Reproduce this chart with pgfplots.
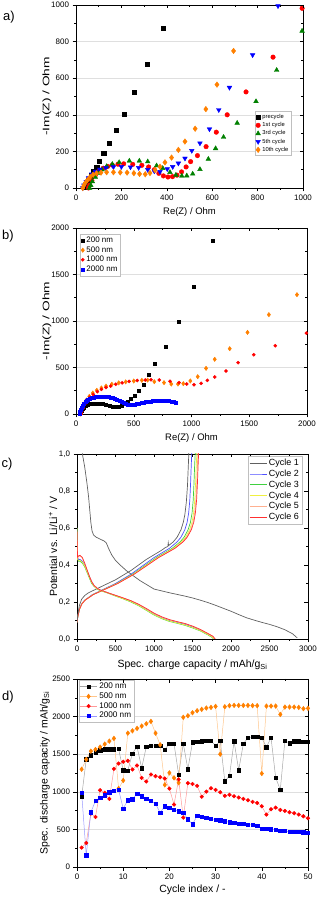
\documentclass[border=0pt]{standalone}
\usepackage{fontspec}
\setmainfont{Liberation Sans}
\usepackage{graphicx}
\usepackage{pgfplots}
\usepackage{pgfplotstable}
\pgfplotsset{compat=1.18}
\definecolor{cgreen}{RGB}{0,128,0}
\definecolor{corange}{RGB}{255,128,0}
\definecolor{cone}{RGB}{96,96,96}
\definecolor{ctwo}{RGB}{80,80,255}
\definecolor{cthree}{RGB}{64,208,64}
\definecolor{cfour}{RGB}{240,240,64}
\definecolor{cfive}{RGB}{255,176,144}
\definecolor{csix}{RGB}{255,48,48}
\pgfplotstableread{
cyc n200 n500 n1000 n2000
1 932 1300 258 990
2 1434 1430 320 155
3 1487 1540 710 728
4 1527 1563 666 880
5 1550 1594 1021 924
6 1567 1634 986 955
7 1567 1674 906 995
8 1567 1710 1305 1017
9 1570 1043 1376 1030
10 1288 1150 1400 777
11 1283 1780 1412 888
12 1510 1811 1297 901
13 1600 1843 1350 977
14 1315 1874 1185 941
15 1600 1905 1137 906
16 1612 1936 1230 880
17 1612 1780 1208 840
18 1612 1625 1194 724
19 1563 1092 1177 808
20 1638 1252 1043 786
21 1638 1185 830 764
22 1230 1120 1165 742
23 1643 1990 657 720
24 1300 2011 1115 635
25 1660 2051 1105 568
26 1665 2078 1080 680
27 1673 2096 935 666
28 1678 2114 1003 653
29 1678 2122 1048 640
30 1612 2136 1025 631
31 1678 1500 995 622
32 1141 2131 946 608
33 1212 2145 960 595
34 1670 2149 941 586
35 1288 2149 924 577
36 1638 2149 906 573
37 1718 2149 888 564
38 1732 2145 866 560
39 1732 2145 852 551
40 1718 1243 808 511
41 1594 2140 697 506
42 1718 2140 768 502
43 1190 2140 790 497
44 1026 2029 759 480
45 1678 2127 746 480
46 1647 2127 728 466
47 1670 2127 715 466
48 1670 2122 697 466
49 1665 2105 675 462
50 1665 2110 648 457
}\capdata
\pgfplotsset{
  base/.style={scale only axis, axis line style={black, line width=0.6pt},
    tick style={black, line width=0.5pt}, major tick length=3.5bp, minor tick length=2bp,
    minor tick num=1, tick label style={font=\fontsize{8}{9}\selectfont},
    label style={font=\fontsize{9.5}{11}\selectfont},
    /pgf/number format/assume math mode=true,
    /pgf/number format/1000 sep={},
    xtick pos=left, ytick pos=left, tick align=outside,
    grid style={gray!25, line width=0.5pt},
    legend cell align=left},
  mirror/.style={scale only axis, axis line style={draw=none},
    tick style={black, line width=0.5pt}, major tick length=3.5bp, minor tick length=2bp,
    minor tick num=1, xtick pos=right, ytick pos=right, tick align=inside,
    xticklabels={}, yticklabels={}},
}
\begin{document}
\begin{tikzpicture}
\useasboundingbox (0,0) rectangle (319bp,898bp);
\node[font=\fontsize{13}{14}\selectfont] at (9bp,881bp) {a)};
\node[font=\fontsize{13}{14}\selectfont] at (8bp,662bp) {b)};
\node[font=\fontsize{13}{14}\selectfont] at (7bp,434bp) {c)};
\node[font=\fontsize{13}{14}\selectfont] at (8bp,201bp) {d)};
% ---------------- panel a
\begin{axis}[base, at={(76bp,710bp)}, anchor=south west, width=227bp, height=183bp,
  xmin=0, xmax=1000, ymin=0, ymax=1000, xtick={0,200,...,1000}, ytick={0,200,...,1000},
  ymajorgrids, xlabel={Re(Z) / Ohm}, ylabel={\scalebox{1.45}[1]{-Im(Z) / Ohm}},
  xlabel style={at={(axis description cs:0.5,-0.131)}, anchor=center},
  ylabel style={at={(axis description cs:-0.128,0.5)}, anchor=center},
  legend style={font=\fontsize{5.8}{6.5}\selectfont, draw=gray!50, at={(0.95,0.42)}, anchor=north east, inner sep=1pt, row sep=-1.5pt}]
\addplot[only marks, mark=square*, mark size=2.1, black] coordinates {
(37,7)(44,20)(56,44)(66,67)(78,93)(91,115)(103,148)(122,190)(147,246)(176,315)(212,405)(256,522)(313,676)(385,875)};
\addlegendentry{precycle}
\addplot[only marks, mark=*, mark size=2.3, red] coordinates {
(55,0)(60,15)(70,40)(85,70)(100,90)(120,108)(140,118)(160,125)(185,130)(210,132)(250,129)(290,124)(320,115)(345,100)(365,80)(385,66)(405,60)(425,62)(445,70)(465,88)(485,115)(505,144)(535,177)(573,226)(618,305)(666,400)(749,525)(868,715)(996,982)};
\addlegendentry{1st cycle}
\addplot[only marks, mark=triangle*, mark size=2.7, cgreen] coordinates {
(60,0)(65,15)(72,35)(85,60)(100,82)(115,100)(135,118)(160,130)(190,140)(235,148)(279,148)(316,144)(355,122)(382,108)(414,86)(440,71)(466,66)(488,67)(514,77)(546,102)(583,158)(615,216)(650,278)(710,355)(793,473)(884,644)(996,858)};
\addlegendentry{3rd cycle}
\addplot[only marks, mark=triangle*, mark size=2.7, mark options={rotate=180}, blue] coordinates {
(30,0)(35,15)(45,35)(55,55)(70,75)(85,90)(105,102)(132,109)(165,115)(200,116)(240,114)(276,111)(316,100)(345,92)(370,89)(402,104)(426,116)(451,135)(480,162)(510,204)(546,245)(588,322)(629,427)(676,549)(778,727)(890,995)};
\addlegendentry{5th cycle}
\addplot[only marks, mark=diamond*, mark size=2.8, corange] coordinates {
(30,0)(35,15)(42,30)(52,45)(62,60)(75,72)(90,80)(110,84)(135,86)(165,86)(195,85)(225,84)(255,81)(280,77)(305,75)(326,82)(348,98)(370,116)(392,140)(421,166)(451,208)(480,254)(525,324)(572,431)(621,565)(694,749)};
\addlegendentry{10th cycle}
\end{axis}
\begin{axis}[mirror, at={(76bp,710bp)}, anchor=south west, width=227bp, height=183bp,
  xmin=0, xmax=1000, ymin=0, ymax=1000, xtick={0,200,...,1000}, ytick={0,200,...,1000}]
\end{axis}
% ---------------- panel b
\begin{axis}[base, at={(76bp,484bp)}, anchor=south west, width=231bp, height=186bp,
  xmin=0, xmax=2000, ymin=0, ymax=2000, xtick={0,500,...,2000}, ytick={0,500,...,2000},
  ymajorgrids, xlabel={Re(Z) / Ohm}, ylabel={\scalebox{1.45}[1]{-Im(Z) / Ohm}},
  xlabel style={at={(axis description cs:0.5,-0.129)}, anchor=center},
  ylabel style={at={(axis description cs:-0.126,0.5)}, anchor=center},
  legend style={font=\fontsize{8}{9}\selectfont, draw=gray!50, at={(0.017,0.968)}, anchor=north west, inner sep=1pt, row sep=-1.5pt}]
\addplot[only marks, mark=square*, mark size=1.5, black] coordinates {
(35,0)(40,15)(48,35)(58,55)(70,72)(85,88)(100,98)(120,106)(145,111)(170,113)(200,112)(230,109)(260,103)(290,92)(320,82)(345,76)(370,78)(395,90)(420,110)(445,132)(475,160)(505,197)(545,247)(587,319)(630,419)(685,545)(775,724)(890,993)(1017,1366)(1185,1860)};
\addlegendentry{200 nm}
\addplot[only marks, mark=diamond*, mark size=2.2, corange] coordinates {
(40,0)(45,30)(55,70)(70,110)(90,150)(115,190)(145,225)(180,255)(220,280)(260,300)(310,320)(370,335)(430,345)(500,355)(570,362)(620,365)(678,347)(762,337)(825,322)(883,322)(929,326)(990,355)(1054,401)(1126,491)(1201,588)(1331,702)(1485,878)(1670,1068)(1913,1283)};
\addlegendentry{500 nm}
\addplot[only marks, mark=*, mark size=1.6, red] coordinates {
(45,0)(50,30)(60,60)(75,100)(95,140)(120,180)(150,210)(185,240)(220,265)(260,285)(300,300)(345,320)(400,335)(460,350)(530,360)(600,365)(650,368)(721,365)(814,351)(892,337)(959,322)(1022,315)(1083,330)(1137,362)(1201,398)(1299,462)(1403,552)(1539,638)(1726,734)(1995,870)};
\addlegendentry{1000 nm}
\addplot[only marks, mark=square*, mark size=1.5, blue] coordinates {
(28,0)(35,20)(42,45)(50,70)(58,90)(68,110)(80,128)(92,143)(105,155)(120,165)(135,173)(150,179)(168,184)(185,187)(202,188)(220,188)(240,187)(260,185)(280,181)(300,176)(318,170)(336,162)(355,153)(375,143)(395,132)(415,121)(433,112)(450,105)(465,99)(480,97)(495,98)(510,102)(525,106)(545,112)(565,118)(585,123)(605,128)(625,132)(645,136)(665,140)(685,142)(705,145)(725,146)(745,147)(765,146)(785,144)(805,140)(825,135)(845,130)(866,122)};
\addlegendentry{2000 nm}
\end{axis}
\begin{axis}[mirror, at={(76bp,484bp)}, anchor=south west, width=231bp, height=186bp,
  xmin=0, xmax=2000, ymin=0, ymax=2000, xtick={0,500,...,2000}, ytick={0,500,...,2000}]
\end{axis}
% ---------------- panel c
\begin{axis}[base, at={(77bp,259bp)}, anchor=south west, width=231bp, height=185bp,
  xmin=0, xmax=3000, ymin=0, ymax=1.0, xtick={0,500,...,3000}, ytick={0,0.2,...,1.0},
  yticklabel style={/pgf/number format/.cd, fixed, fixed zerofill, precision=1, use comma},
  xlabel={Spec. charge capacity / mAh/g\textsubscript{Si}},
  ylabel={Potential vs. Li/Li\textsuperscript{+} / V},
  label style={font=\fontsize{10.5}{12}\selectfont},
  xlabel style={at={(axis description cs:0.5,-0.141)}, anchor=center},
  ylabel style={at={(axis description cs:-0.104,0.5)}, anchor=center},
  legend style={font=\fontsize{9}{10}\selectfont, draw=gray!50, at={(0.974,0.989)}, anchor=north east, inner sep=1pt, row sep=-1.2pt},
  every axis plot/.append style={line width=0.7pt}]
\addplot[cone] coordinates {(50,1.15)(70,1.0)(100,0.93)(130,0.84)(150,0.77)(165,0.70)(180,0.63)(195,0.585)(215,0.562)(250,0.55)(300,0.54)(350,0.53)(380,0.52)(410,0.49)(450,0.455)(500,0.425)(560,0.40)(640,0.37)(720,0.345)(820,0.315)(920,0.29)(1000,0.27)(1200,0.25)(1400,0.232)(1500,0.222)(1600,0.21)(1700,0.197)(1800,0.182)(1900,0.166)(2000,0.15)(2100,0.132)(2200,0.115)(2300,0.102)(2400,0.09)(2500,0.079)(2600,0.066)(2700,0.05)(2800,0.028)(2860,0.006)};
\addlegendentry{Cycle 1}
\addplot[ctwo] coordinates {(0,0.09)(10,0.12)(30,0.16)(60,0.19)(100,0.21)(150,0.225)(200,0.24)(300,0.26)(400,0.28)(500,0.30)(600,0.325)(700,0.35)(800,0.38)(900,0.41)(1000,0.44)(1100,0.465)(1200,0.49)(1300,0.525)(1350,0.55)(1400,0.59)(1430,0.63)(1450,0.68)(1465,0.75)(1475,0.84)(1483,0.93)(1490,1.0)(1495,1.05)};
\addlegendentry{Cycle 2}
\addplot[cthree] coordinates {(0,0.09)(10,0.12)(31,0.16)(62,0.19)(103,0.21)(155,0.225)(206,0.24)(309,0.26)(412,0.28)(515,0.30)(618,0.325)(721,0.35)(824,0.38)(927,0.41)(1030,0.44)(1133,0.465)(1236,0.49)(1339,0.525)(1391,0.55)(1442,0.59)(1473,0.63)(1494,0.68)(1509,0.75)(1519,0.84)(1527,0.93)(1535,1.0)(1540,1.05)};
\addlegendentry{Cycle 3}
\addplot[cfour] coordinates {(0,0.09)(10,0.12)(31,0.16)(63,0.19)(104,0.21)(157,0.225)(209,0.24)(313,0.26)(418,0.28)(522,0.30)(626,0.325)(731,0.35)(835,0.38)(940,0.41)(1044,0.44)(1148,0.465)(1253,0.49)(1357,0.525)(1409,0.55)(1462,0.59)(1493,0.63)(1514,0.68)(1529,0.75)(1540,0.84)(1548,0.93)(1556,1.0)(1561,1.05)};
\addlegendentry{Cycle 4}
\addplot[cfive] coordinates {(0,0.09)(11,0.12)(32,0.16)(63,0.19)(105,0.21)(158,0.225)(211,0.24)(316,0.26)(422,0.28)(527,0.30)(632,0.325)(738,0.35)(843,0.38)(949,0.41)(1054,0.44)(1159,0.465)(1265,0.49)(1370,0.525)(1423,0.55)(1476,0.59)(1507,0.63)(1528,0.68)(1544,0.75)(1555,0.84)(1563,0.93)(1570,1.0)(1576,1.05)};
\addlegendentry{Cycle 5}
\addplot[csix] coordinates {(0,0.09)(11,0.12)(32,0.16)(64,0.19)(106,0.21)(159,0.225)(212,0.24)(318,0.26)(424,0.28)(530,0.30)(636,0.325)(742,0.35)(848,0.38)(954,0.41)(1060,0.44)(1166,0.465)(1272,0.49)(1378,0.525)(1431,0.55)(1484,0.59)(1516,0.63)(1537,0.68)(1553,0.75)(1564,0.84)(1572,0.93)(1579,1.0)(1585,1.05)};
\addlegendentry{Cycle 6}
% cycle 1 charge
\addplot[cone, forget plot] coordinates {(0,0.09)(10,0.13)(30,0.18)(60,0.215)(100,0.235)(150,0.25)(200,0.26)(300,0.28)(400,0.30)(500,0.32)(600,0.345)(700,0.37)(800,0.40)(900,0.43)(1000,0.455)(1100,0.48)(1150,0.495)(1180,0.5)(1185,0.52)(1190,0.505)(1250,0.525)(1300,0.55)(1350,0.59)(1380,0.63)(1400,0.67)(1420,0.74)(1435,0.83)(1445,0.93)(1452,1.0)(1455,1.05)};
% discharge cycles 2-6
\addplot[ctwo, forget plot] coordinates {(0,0.6)(3,0.5)(8,0.44)(20,0.43)(40,0.43)(70,0.42)(100,0.40)(130,0.37)(160,0.34)(190,0.31)(220,0.29)(260,0.275)(300,0.265)(400,0.25)(500,0.235)(600,0.22)(700,0.205)(800,0.185)(900,0.16)(1000,0.135)(1100,0.115)(1200,0.10)(1300,0.09)(1400,0.08)(1500,0.065)(1600,0.048)(1700,0.025)(1760,0.012)(1785,0.0)};
\addplot[cthree, forget plot] coordinates {(0,0.6)(3,0.48)(8,0.43)(20,0.42)(40,0.42)(70,0.41)(100,0.39)(130,0.36)(160,0.33)(190,0.30)(220,0.285)(260,0.27)(300,0.262)(400,0.248)(500,0.232)(600,0.217)(700,0.2)(800,0.18)(900,0.155)(1000,0.13)(1100,0.11)(1200,0.095)(1300,0.085)(1400,0.074)(1500,0.06)(1600,0.044)(1700,0.022)(1750,0.01)(1775,0.0)};
\addplot[cfour, forget plot] coordinates {(0,0.6)(3,0.48)(8,0.43)(20,0.425)(40,0.425)(70,0.415)(100,0.395)(130,0.365)(160,0.335)(190,0.305)(220,0.287)(260,0.272)(300,0.263)(400,0.249)(500,0.233)(600,0.218)(700,0.202)(800,0.182)(900,0.157)(1000,0.132)(1100,0.112)(1200,0.097)(1300,0.087)(1400,0.076)(1500,0.062)(1600,0.046)(1700,0.024)(1755,0.011)(1780,0.0)};
\addplot[cfive, forget plot] coordinates {(0,0.58)(3,0.5)(8,0.44)(20,0.445)(40,0.45)(70,0.437)(100,0.408)(130,0.373)(160,0.34)(190,0.31)(220,0.29)(260,0.275)(300,0.265)(400,0.25)(500,0.236)(600,0.222)(700,0.207)(800,0.187)(900,0.163)(1000,0.138)(1100,0.118)(1200,0.103)(1300,0.093)(1400,0.083)(1500,0.069)(1600,0.051)(1700,0.029)(1760,0.014)(1790,0.0)};
\addplot[csix, forget plot] coordinates {(0,0.58)(3,0.5)(8,0.44)(20,0.45)(40,0.452)(70,0.44)(100,0.41)(130,0.375)(160,0.34)(190,0.31)(220,0.29)(260,0.275)(300,0.265)(400,0.25)(500,0.236)(600,0.222)(700,0.207)(800,0.188)(900,0.165)(1000,0.14)(1100,0.12)(1200,0.105)(1300,0.094)(1400,0.084)(1500,0.07)(1600,0.052)(1700,0.03)(1765,0.015)(1795,0.0)};
\end{axis}
\begin{axis}[mirror, at={(77bp,259bp)}, anchor=south west, width=231bp, height=185bp,
  xmin=0, xmax=3000, ymin=0, ymax=1.0, xtick={0,500,...,3000}, ytick={0,0.2,...,1.0}]
\end{axis}
% ---------------- panel d
\begin{axis}[base, at={(77bp,31bp)}, anchor=south west, width=231bp, height=188bp,
  xmin=0, xmax=50, ymin=0, ymax=2500, xtick={0,10,...,50}, ytick={0,500,...,2500},
  ymajorgrids,
  xlabel={Cycle index / -},
  ylabel={Spec. discharge capacity / mAh/g\textsubscript{Si}},
  label style={font=\fontsize{10.5}{12}\selectfont},
  xlabel style={at={(axis description cs:0.5,-0.122)}, anchor=center},
  ylabel style={at={(axis description cs:-0.139,0.5)}, anchor=center},
  legend style={font=\fontsize{8.2}{9}\selectfont, draw=gray!50, at={(0.007,0.995)}, anchor=north west, inner sep=1pt, row sep=-1.5pt},
  every axis plot/.append style={line width=0.5pt}]
\addplot[color=black!35, mark=square*, mark size=1.7, mark options={draw=black, fill=black}] table[x=cyc, y=n200] {\capdata};
\addlegendentry{200 nm}
\addplot[color=corange!45, mark=diamond*, mark size=2.3, mark options={draw=corange, fill=corange}] table[x=cyc, y=n500] {\capdata};
\addlegendentry{500 nm}
\addplot[color=red!40, mark=*, mark size=1.8, mark options={draw=red, fill=red}] table[x=cyc, y=n1000] {\capdata};
\addlegendentry{1000 nm}
\addplot[color=blue!40, mark=square*, mark size=1.7, mark options={draw=blue, fill=blue}] table[x=cyc, y=n2000] {\capdata};
\addlegendentry{2000 nm}
\end{axis}
\begin{axis}[mirror, at={(77bp,31bp)}, anchor=south west, width=231bp, height=188bp,
  xmin=0, xmax=50, ymin=0, ymax=2500, xtick={0,10,...,50}, ytick={0,500,...,2500}]
\end{axis}
\end{tikzpicture}
\end{document}
